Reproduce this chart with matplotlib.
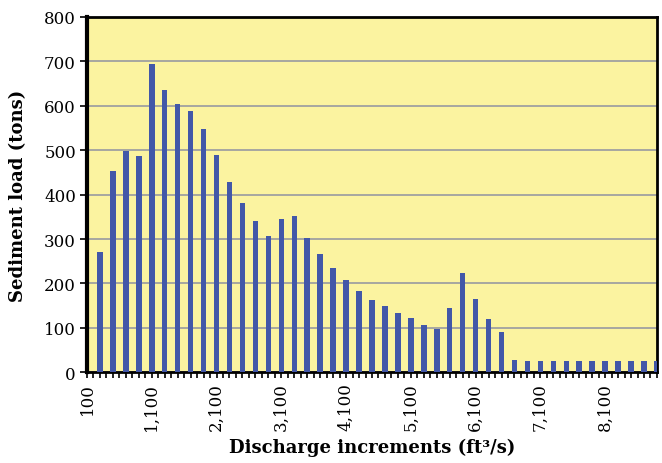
import matplotlib
matplotlib.use("Agg")
import matplotlib.pyplot as plt
from matplotlib.ticker import MultipleLocator, FuncFormatter

# discharge increments (ft3/s), one bar every 200
discharge = list(range(300, 9000, 200))
sediment = [270, 454, 499, 486, 693, 636, 603, 587, 547, 490,
            429, 381, 340, 306, 345, 351, 303, 267, 235, 207,
            183, 163, 149, 133, 122, 107, 98, 145, 223, 164,
            119, 91, 28, 25, 25, 25, 25, 25, 25, 25,
            25, 25, 25, 25]

plt.rcParams['font.family'] = ['DejaVu Serif']

fig = plt.figure(figsize=(6.62, 4.64), dpi=100)
ax = fig.add_axes([0.1314, 0.1955, 0.861, 0.766])
ax.set_facecolor('#FBF3A0')

ax.bar(discharge, sediment, width=85, color='#4257A8', zorder=3)

ax.set_xlim(100, 8900)
ax.set_ylim(0, 800)
ax.yaxis.set_major_locator(MultipleLocator(100))
ax.grid(axis='y', color='#A0A0A0', linewidth=1.3, zorder=1)

ax.set_xticks(range(100, 8200, 1000))
ax.xaxis.set_major_formatter(FuncFormatter(lambda v, p: f"{int(v):,}"))
ax.xaxis.set_minor_locator(MultipleLocator(100))
ax.tick_params(axis='x', which='both', direction='out', length=4, width=1.2,
               labelsize=12, labelrotation=90, pad=3)
ax.tick_params(axis='y', direction='out', length=5, width=1.2, labelsize=12, pad=3)

for s in ax.spines.values():
    s.set_linewidth(2)
    s.set_color('black')
ax.spines['left'].set_linewidth(3)

ax.set_ylabel('Sediment load (tons)', fontsize=13, fontweight='bold', labelpad=12)
ax.set_xlabel('Discharge increments (ft³/s)', fontsize=13, fontweight='bold', labelpad=6)

fig.savefig('out.png', dpi=100)
